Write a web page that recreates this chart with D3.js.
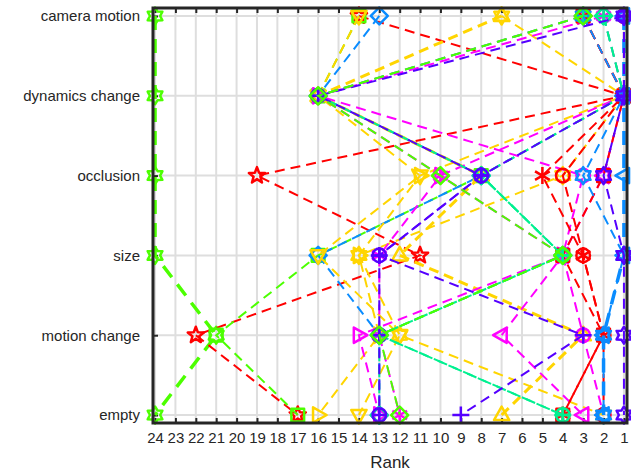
<!DOCTYPE html>
<html><head><meta charset="utf-8">
<script src="https://cdn.jsdelivr.net/npm/d3@7"></script>
<style>body{margin:0;background:#fff}svg{display:block;font-family:"Liberation Sans",Arial,sans-serif}</style>
</head><body><svg id="c" width="631" height="472"></svg>
<script>
// attributes (bottom to top)
const attributes = ["empty","motion change","size","occlusion","dynamics change","camera motion"];
const rankTicks = d3.range(24,0,-1);
// ranks per tracker, order: [camera motion, dynamics change, occlusion, size, motion change, empty]
const trackerNames = ["T1","T2","T3","T4","T5","T6","T7","T8","T9","T10","T11","T12","T13","T14","T15","T16","T17","T18","T19","T20","T21","T22","T23","T24"];
const trackerColors = ["#4cff00","#ff0000","#4cff00","#0a8cff","#ffd500","#ffd500","#ffd500","#ffd500","#ff00ff","#ff00ff","#ff00ff","#ff00ff","#ff0000","#ff0000","#ff0000","#00f090","#00f090","#00f090","#0a8cff","#0a8cff","#5500ff","#5500ff","#5500ff","#4cff00"];
const trackerMarkers = ["hexagram","pentagram","square","diamond","hexagram","triangle","down","right","right","left","asterisk","circle","asterisk","circle","square","plus","diamond","circleplus","hexagram","left","star","circleplus","plus","diamond"];
const trackerWidths = [3.5,2,2,2,2,3,2,2,2,2,2,2,2,2,2,2,2,2,2,3.5,2,2,2,2];
const ranksCamera   = [24,14,14,13,7,7,14,3,3,3,2,2,3,1,3,2,2,3,3,1,1,1,1,3];
const ranksDynamics = [24,1,16,16,1,16,16,1,16,1,1,16,1,1,1,1,1,16,1,1,1,16,1,16];
const ranksOcclusion= [24,19,8,8,4,8,11,11,10,2,10,3,5,4,2,8,8,8,3,1,2,8,8,10];
const ranksSize     = [24,11,16,16,14,12,16,14,4,4,13,4,3,3,4,4,4,4,1,1,1,13,13,4];
const ranksMotion   = [21,22,21,13,12,3,12,13,14,7,13,3,2,2,2,13,13,13,2,2,1,13,3,13];
const ranksEmpty    = [24,17,17,13,2,7,14,16,13,3,12,2,4,2,4,4,13,4,2,2,1,13,9,12];

const svg = d3.select("#c");
const L=153,R=627,T=8,B=423;
const x = d3.scaleLinear().domain([24.1,0.85]).range([L,R]);
const y = d3.scaleLinear().domain([-0.1,5.1]).range([B,T]);
const ink="#262626";

// grid
svg.append("g").selectAll("line").data(rankTicks).join("line")
  .attr("x1",d=>x(d)).attr("x2",d=>x(d)).attr("y1",T).attr("y2",B)
  .attr("stroke","#dedede").attr("stroke-width",2);
svg.append("g").selectAll("line").data(attributes).join("line")
  .attr("x1",L).attr("x2",R).attr("y1",(d,i)=>y(i)).attr("y2",(d,i)=>y(i))
  .attr("stroke","#dedede").attr("stroke-width",2);

// axes
const xb = svg.append("g").attr("transform",`translate(0,${B})`)
  .call(d3.axisBottom(x).tickValues(rankTicks).tickFormat(d3.format("d")).tickSizeInner(-5).tickSizeOuter(0).tickPadding(9));
const xt = svg.append("g").attr("transform",`translate(0,${T})`)
  .call(d3.axisTop(x).tickValues(rankTicks).tickFormat("").tickSizeInner(-5).tickSizeOuter(0));
const yl = svg.append("g").attr("transform",`translate(${L},0)`)
  .call(d3.axisLeft(y).tickValues(d3.range(6)).tickFormat(i=>attributes[i]).tickSizeInner(-5).tickSizeOuter(0).tickPadding(13));
[xb,xt,yl].forEach(g=>{g.select(".domain").remove();g.selectAll("line").attr("stroke",ink).attr("stroke-width",2);
  g.selectAll("text").attr("fill",ink).style("font-size","15px");});

// markers
function markerPath(type,r){
  const p=d3.path();
  const star=(n,ro,ri)=>{for(let k=0;k<2*n;k++){const a=-Math.PI/2+k*Math.PI/n;const rr=k%2?ri:ro;k?p.lineTo(rr*Math.cos(a),rr*Math.sin(a)):p.moveTo(rr*Math.cos(a),rr*Math.sin(a));}p.closePath();};
  const poly=(pts)=>{pts.forEach((q,k)=>k?p.lineTo(q[0],q[1]):p.moveTo(q[0],q[1]));p.closePath();};
  switch(type){
    case "hexagram": star(6,r,r*0.6);break;
    case "pentagram": star(5,r,r*0.42);break;
    case "star": star(6,r,r*0.6);break;
    case "square": p.rect(-r*0.75,-r*0.75,r*1.5,r*1.5);break;
    case "diamond": poly([[0,-r],[r,0],[0,r],[-r,0]]);break;
    case "circle": p.arc(0,0,r*0.8,0,2*Math.PI);break;
    case "triangle": poly([[0,-r],[r*0.9,r*0.6],[-r*0.9,r*0.6]]);break;
    case "down": poly([[0,r],[r*0.9,-r*0.6],[-r*0.9,-r*0.6]]);break;
    case "right": poly([[r,0],[-r*0.6,r*0.9],[-r*0.6,-r*0.9]]);break;
    case "left": poly([[-r,0],[r*0.6,r*0.9],[r*0.6,-r*0.9]]);break;
    case "plus": p.moveTo(-r,0);p.lineTo(r,0);p.moveTo(0,-r);p.lineTo(0,r);break;
    case "asterisk": for(let k=0;k<3;k++){const a=k*Math.PI/3+Math.PI/2;p.moveTo(r*Math.cos(a),r*Math.sin(a));p.lineTo(-r*Math.cos(a),-r*Math.sin(a));}
      p.moveTo(-r*0.85,-r*0.5);p.lineTo(r*0.85,r*0.5);break;
    case "circleplus": p.arc(0,0,r*0.8,0,2*Math.PI);p.moveTo(-r*0.8,0);p.lineTo(r*0.8,0);p.moveTo(0,-r*0.8);p.lineTo(0,r*0.8);break;
  }
  return p.toString();
}

const order=[5,4,3,2,1,0]; // attribute index for each rank column
const rankCols=[ranksCamera,ranksDynamics,ranksOcclusion,ranksSize,ranksMotion,ranksEmpty];
const line=d3.line().x(d=>x(d.r)).y(d=>y(d.a));
const plot=svg.append("g");
trackerNames.forEach((n,i)=>{
  const pts=rankCols.map((col,j)=>({r:col[i],a:order[j]}));
  const w=trackerWidths[i];
  plot.append("path").attr("d",line(pts)).attr("fill","none").attr("stroke",trackerColors[i])
    .attr("stroke-width",w).attr("stroke-dasharray",w>3?"14,9":"10,6");
  plot.selectAll(null).data(pts).join("path").attr("d",markerPath(trackerMarkers[i],8.5))
    .attr("transform",d=>`translate(${x(d.r)},${y(d.a)})`)
    .attr("fill","none").attr("stroke",trackerColors[i]).attr("stroke-width",2.5).attr("stroke-linejoin","round");
});

// box
svg.append("rect").attr("x",L).attr("y",T).attr("width",R-L).attr("height",B-T)
  .attr("fill","none").attr("stroke",ink).attr("stroke-width",3);

svg.append("text").attr("x",(L+R)/2).attr("y",468).attr("text-anchor","middle")
  .attr("fill",ink).style("font-size","17px").text("Rank");
</script></body></html>
